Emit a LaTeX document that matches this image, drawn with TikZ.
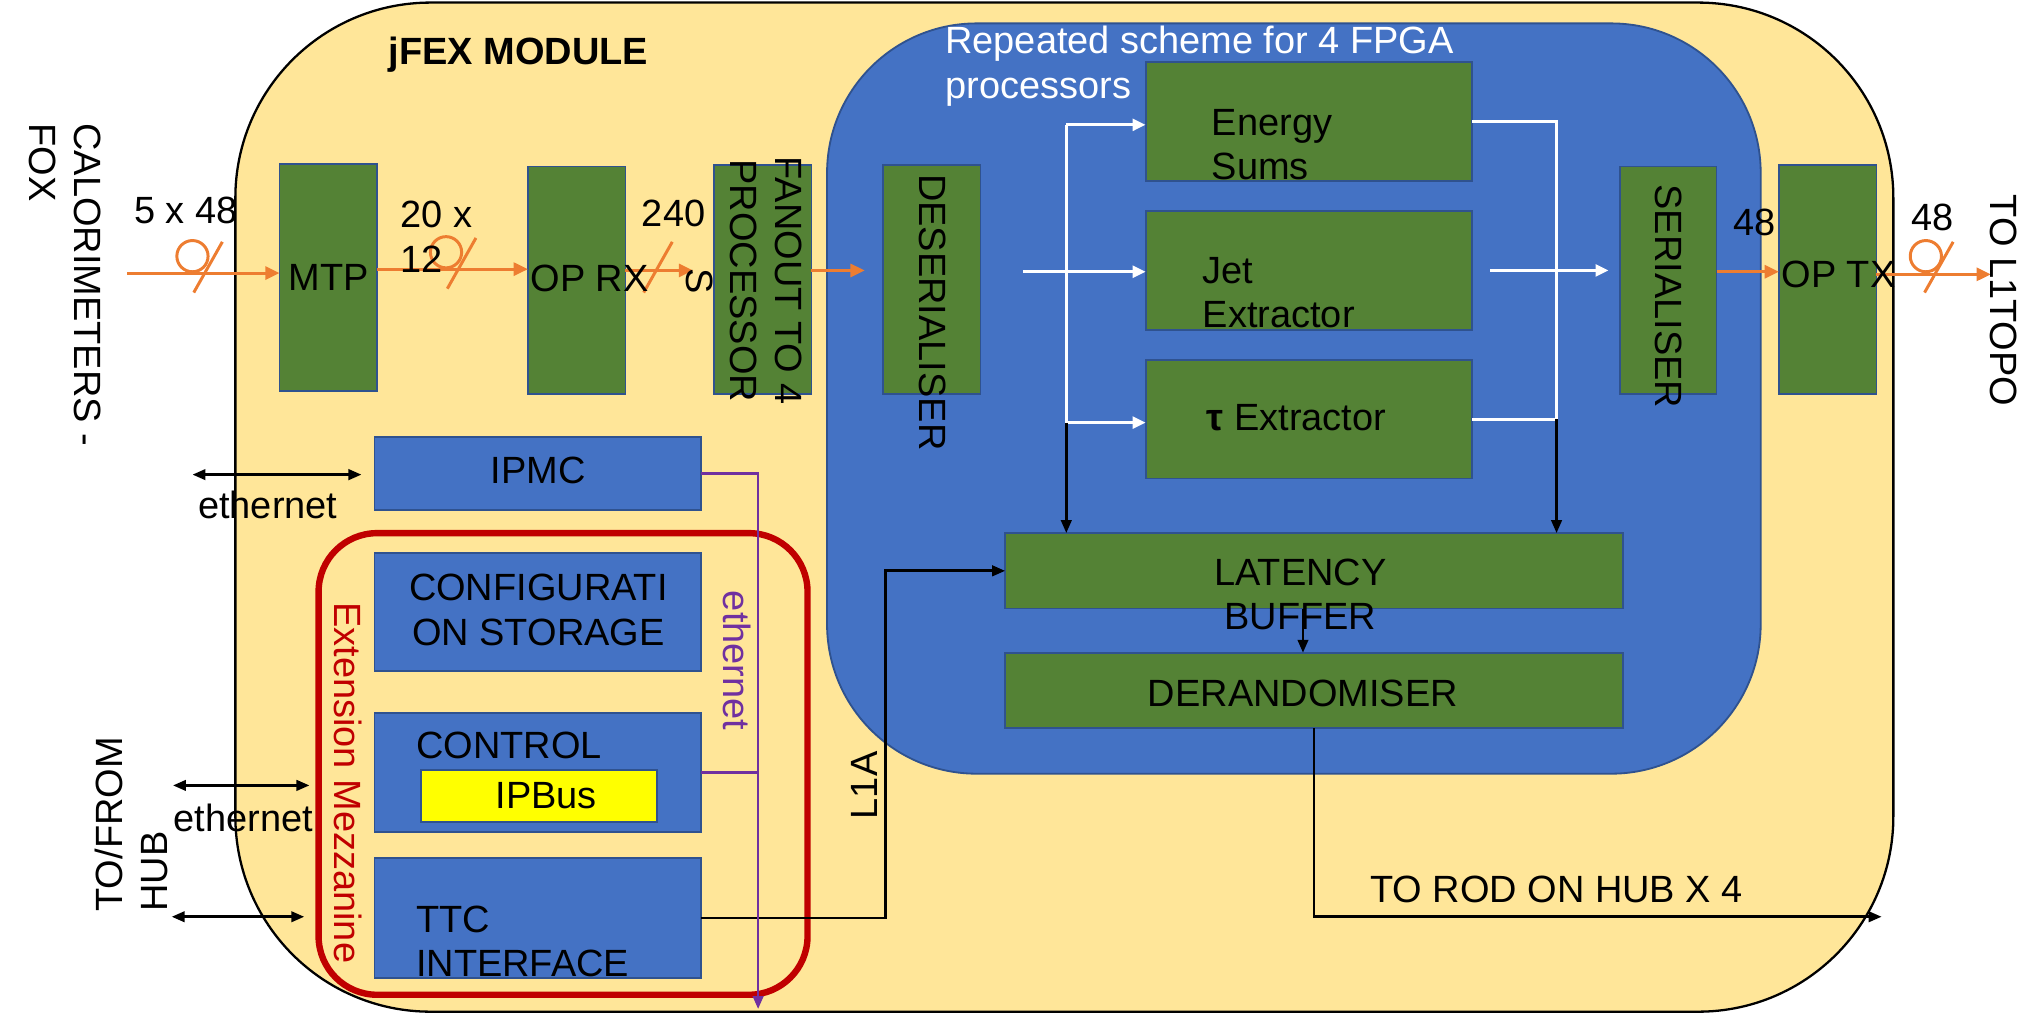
\documentclass[tikz,border=0pt]{standalone}
\usepackage{fontspec}
\setmainfont{Liberation Sans}
\usetikzlibrary{arrows.meta,fit,calc}
\definecolor{modyel}{HTML}{FFE699}
\definecolor{fpgablue}{HTML}{4472C4}
\definecolor{bordblue}{HTML}{2F528F}
\definecolor{boxgreen}{HTML}{548235}
\definecolor{fibre}{HTML}{ED7D31}
\definecolor{mezzred}{HTML}{C00000}
\definecolor{ethpurple}{HTML}{7030A0}
\definecolor{ipbusyel}{HTML}{FFFF00}
\begin{document}
\begin{tikzpicture}[x=0.01cm,y=-0.01cm, font=\fontsize{8.3}{9.7}\selectfont,
  gbox/.style={draw=bordblue, fill=boxgreen, line width=0.4pt, inner sep=0pt, outer sep=0pt},
  bbox/.style={draw=bordblue, fill=fpgablue, line width=0.4pt, inner sep=0pt, outer sep=0pt},
  txt/.style={inner sep=0pt, outer sep=0pt, text=black},
  fib/.style={draw=fibre, line width=0.65pt},
  fibarrow/.style={fib, -{Triangle[length=1.1mm,width=1.0mm]}},
  blk/.style={draw=black, line width=0.6pt},
  blkarrow/.style={blk, -{Triangle[length=1.0mm,width=0.8mm]}},
  dblarrow/.style={blk, {Triangle[length=1.0mm,width=0.8mm]}-{Triangle[length=1.0mm,width=0.8mm]}},
  wht/.style={draw=white, line width=0.7pt},
  whtarrow/.style={wht, -{Triangle[length=1.0mm,width=0.9mm]}},
  purp/.style={draw=ethpurple, line width=0.6pt},
]
\useasboundingbox (0,0) rectangle (1568,786);

% module and FPGA area
\node[fit={(181,2) (1456,778)}, inner sep=0pt, draw=black, line width=0.5pt, fill=modyel, rounded corners=1.5cm] (module) {};
\node[fit={(636,18) (1354,595)}, inner sep=0pt, draw=bordblue, line width=0.4pt, fill=fpgablue, rounded corners=1.15cm] (fpga) {};

% green boxes
\node[gbox, fit={(215,126) (290,301)}] (mtp) {};
\node[gbox, fit={(406,128) (481,303)}] (oprx) {};
\node[gbox, fit={(549,127) (624,303)}] (fanout) {};
\node[gbox, fit={(679,127) (754,303)}] (deser) {};
\node[gbox, fit={(881,48) (1132,139)}] (esum) {};
\node[gbox, fit={(881,162) (1132,254)}] (jet) {};
\node[gbox, fit={(881,277) (1132,368)}] (tau) {};
\node[gbox, fit={(1246,128) (1320,303)}] (ser) {};
\node[gbox, fit={(1368,127) (1443,303)}] (optx) {};
\node[gbox, fit={(773,410) (1248,468)}] (lat) {};
\node[gbox, fit={(773,502) (1248,560)}] (der) {};

% blue boxes
\node[bbox, fit={(288,336) (539,392)}] (ipmc) {};
\node[bbox, fit={(288,425) (539,516)}] (conf) {};
\node[bbox, fit={(288,548) (539,640)}] (ctrl) {};
\node[fit={(324,592) (505,632)}, draw=bordblue, fill=ipbusyel, line width=0.4pt, inner sep=0pt] (ipbus) {};
\node[bbox, fit={(288,660) (539,752)}] (ttc) {};

% mezzanine
\node[fit={(245,410) (621,765)}, inner sep=0pt, draw=mezzred, line width=1.4pt, rounded corners=0.45cm] (mezz) {};

% orange fibre connectors
\coordinate (inA) at (98,210);
\draw[fibarrow] (inA) -- (inA -| mtp.west);
\draw[fib] (148,197) circle[radius=0.12cm];
\draw[fib] (171,186) -- (149,225);

\coordinate (rowB) at (0,207);
\draw[fibarrow] (mtp.east |- rowB) -- (oprx.west |- rowB);
\draw[fib] (343,194) circle[radius=0.12cm];
\draw[fib] (366,183) -- (344,222);

\coordinate (endC) at (533,208);
\draw[fibarrow] (oprx.east |- endC) -- (endC);
\draw[fib] (517,186) -- (495,225);

\coordinate (endD) at (665,208);
\draw[fibarrow] (fanout.east |- endD) -- (endD);

\coordinate (rowE) at (0,209);
\draw[fibarrow] (ser.east |- rowE) -- (optx.west |- rowE);

\coordinate (outF) at (1531,211);
\draw[fibarrow] (optx.east |- outF) -- (outF);
\draw[fib] (1481,197) circle[radius=0.12cm];
\draw[fib] (1502,186) -- (1480,225);

% white connectors inside FPGA
\coordinate (wTop) at (820,96);
\coordinate (wBot) at (820,325);
\draw[wht] (wTop) -- (wBot);
\draw[whtarrow] (wTop) -- (wTop -| esum.west);
\draw[whtarrow] (wBot) -- (wBot -| tau.west);
\coordinate (wInS) at (787,209);
\draw[whtarrow] (wInS) -- (wInS -| jet.west);
\coordinate (wR) at (1197,0);
\draw[wht] (esum.east) -- (esum.east -| wR) -- (tau.east -| wR) -- (tau.east);
\coordinate (wOutS) at (1146,208);
\coordinate (wOutE) at (1237,208);
\draw[whtarrow] (wOutS) -- (wOutE);

% black connectors
\draw[blkarrow] (wBot) -- (wBot |- lat.north);
\draw[blkarrow] (tau.east -| wR) -- (wR |- lat.north);
\coordinate (bx) at (1002,0);
\draw[blkarrow] (lat.south -| bx) -- (der.north -| bx);
\coordinate (rod) at (1447,705);
\draw[blkarrow] (der.south) |- (rod);
\coordinate (l1aBend) at (681,600);
\draw[blkarrow] (ttc.east) -| (l1aBend) |- (lat.west);

% ethernet external arrows
\coordinate (e1L) at (148,365); \coordinate (e1R) at (278,365);
\draw[dblarrow] (e1L) -- (e1R);
\coordinate (e2L) at (133,604); \coordinate (e2R) at (238,604);
\draw[dblarrow] (e2L) -- (e2R);
\coordinate (e3L) at (132,705); \coordinate (e3R) at (234,705);
\draw[dblarrow] (e3L) -- (e3R);

% purple ethernet
\coordinate (pEnd) at (583,776);
\coordinate (pCtl) at (583,594);
\draw[purp, -{Triangle[length=1.0mm,width=0.8mm]}] (ipmc.east) -| (pEnd);
\draw[purp] (pCtl -| ctrl.east) -- (pCtl);

% labels
\node[txt, font=\fontsize{8.3}{9.7}\selectfont\bfseries, anchor=west] (title) at (299,42) {jFEX MODULE};
\node[txt, text=white, anchor=west, align=left] (rep) at (727,51) {Repeated scheme for 4 FPGA\\processors};
\node[txt] (mtpL) at (253,213) {MTP};
\node[txt, anchor=west] (oprxL) at (408,214) {OP RX};
\node[txt, rotate=-90, align=center] (fanL) at (572,216) {FANOUT TO 4\\PROCESSOR\\S};
\node[txt, rotate=-90, anchor=west] (deserL) at (717,134) {DESERIALISER};
\node[txt, anchor=west, align=left] (esumL) at (932,111) {Energy\\Sums};
\node[txt, anchor=west, align=left] (jetL) at (925,225) {Jet\\Extractor};
\node[txt, anchor=west] (tauL) at (928,321) {\textbf{τ} Extractor};
\node[txt, rotate=-90, anchor=west] (serL) at (1283,142) {SERIALISER};
\node[txt, anchor=west] (optxL) at (1370,211) {OP TX};
\node[txt, align=center] (latL) at (1000,457) {LATENCY\\BUFFER};
\node[txt] (derL) at (1002,533) {DERANDOMISER};
\node[txt] (ipmcL) at (414,362) {IPMC};
\node[txt, align=center] (confL) at (414,469) {CONFIGURATI\\ON STORAGE};
\node[txt, anchor=west] (ctrlL) at (320,573) {CONTROL};
\node[txt] (ipbusL) at (420,612) {IPBus};
\node[txt, anchor=west, align=left] (ttcL) at (320,724) {TTC\\INTERFACE};
\node[txt, text=mezzred, rotate=-90] (mezzL) at (268,602) {Extension Mezzanine};
\node[txt, text=ethpurple, rotate=-90] (ethP) at (567,508) {ethernet};
\node[txt, rotate=90] (l1aL) at (665,604) {L1A};
\node[txt] (rodL) at (1197,684) {TO ROD ON HUB X 4};
\node[txt] (n548) at (143,162) {5 x 48};
\node[txt, anchor=west, align=left] (n2012) at (308,182) {20 x\\12};
\node[txt] (n240) at (518,164) {240};
\node[txt] (n48a) at (1349,171) {48};
\node[txt] (n48b) at (1486,167) {48};
\node[txt] (eth1) at (206,388) {ethernet};
\node[txt] (eth2) at (187,629) {ethernet};
\node[txt, rotate=-90, anchor=west, align=left] (calL) at (50,95) {CALORIMETERS -\\FOX};
\node[txt, rotate=90, anchor=west, align=left] (hubL) at (101,701) {TO/FROM\\HUB};
\node[txt, rotate=-90] (topoL) at (1541,231) {TO L1TOPO};
\end{tikzpicture}
\end{document}
